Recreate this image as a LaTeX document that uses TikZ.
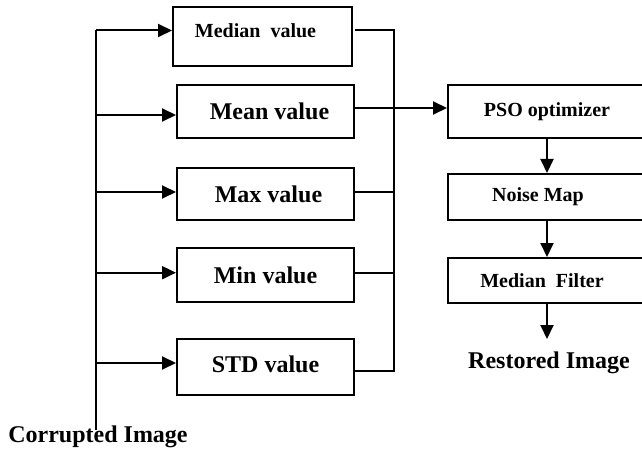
\documentclass[tikz,border=0pt]{standalone}
\usepackage{fontspec}
\setmainfont{Liberation Serif}
\usetikzlibrary{arrows.meta}
\begin{document}
\begin{tikzpicture}[x=1pt,y=-1pt,
  box/.style={draw, line width=2pt, inner sep=0pt, font=\bfseries\fontsize{24}{28}\selectfont},
  sbox/.style={box, font=\bfseries\fontsize{20}{24}\selectfont},
  lbl/.style={inner sep=0pt, font=\bfseries\fontsize{20}{24}\selectfont},
  big/.style={inner sep=0pt, font=\bfseries\fontsize{24}{28}\selectfont},
  conn/.style={line width=2pt},
  arr/.style={conn, -{Triangle[length=14pt,width=13pt]}},
  ]
\useasboundingbox (0,0) rectangle (642,449);
% left column boxes
\node[box, minimum width=179pt, minimum height=59pt] (med) at (262.5,36.5) {};
\node[lbl] (medt) at ([xshift=-7pt,yshift=5.5pt]med.center) {Median~ value};
\node[box, minimum width=177pt, minimum height=53pt] (mean) at (265.5,111.5) {Mean value\hspace*{-8pt}};
\node[box, minimum width=177pt, minimum height=52pt] (max) at (265.5,194) {Max value\hspace*{-6pt}};
\node[box, minimum width=177pt, minimum height=54pt] (min) at (265.5,275) {Min value};
\node[box, minimum width=177pt, minimum height=56pt] (std) at (265.5,367) {};
\node[big] (stdt) at ([yshift=3pt]std.center) {STD value};
% right column boxes
\node[sbox, minimum width=198pt, minimum height=53pt] (pso) at (547,111.5) {PSO optimizer};
\node[sbox, minimum width=198pt, minimum height=46pt] (noise) at (547,197) {Noise Map\hspace*{18pt}};
\node[sbox, minimum width=198pt, minimum height=45pt] (mf) at (547,280.5) {Median~ Filter\hspace*{10pt}};
\coordinate (out) at (547,339);
\node[big] (rest) at (549,362.5) {Restored Image};
\node[big] (corr) at (98,436.5) {Corrupted Image};
% left bus
\coordinate (l1) at (95.5,30.5);
\coordinate (l2) at (95.5,115);
\coordinate (l3) at (95.5,192);
\coordinate (l4) at (95.5,272.7);
\coordinate (l5) at (95.5,363);
\coordinate (lb) at (95.5,430);
\draw[conn] (l1) -- (lb);
\draw[arr] (l1) -- (l1 -| med.west);
\draw[arr] (l2) -- (l2 -| mean.west);
\draw[arr] (l3) -- (l3 -| max.west);
\draw[arr] (l4) -- (l4 -| min.west);
\draw[arr] (l5) -- (l5 -| std.west);
% right bus
\coordinate (r1) at (394,30.5);
\coordinate (r2) at (394,108);
\coordinate (r3) at (394,192);
\coordinate (r4) at (394,272.7);
\coordinate (r5) at (394,371);
\draw[conn] ([xshift=2pt]med.east |- r1) -- (r1) -- (r5) -- (r5 -| std.east);
\draw[conn] (max.east |- r3) -- (r3);
\draw[conn] (min.east |- r4) -- (r4);
\draw[arr] (mean.east |- r2) -- (r2 -| pso.west);
% right chain
\draw[arr] (pso.south) -- (noise.north);
\draw[arr] (noise.south) -- (mf.north);
\draw[arr] (mf.south) -- (out);
\end{tikzpicture}
\end{document}
